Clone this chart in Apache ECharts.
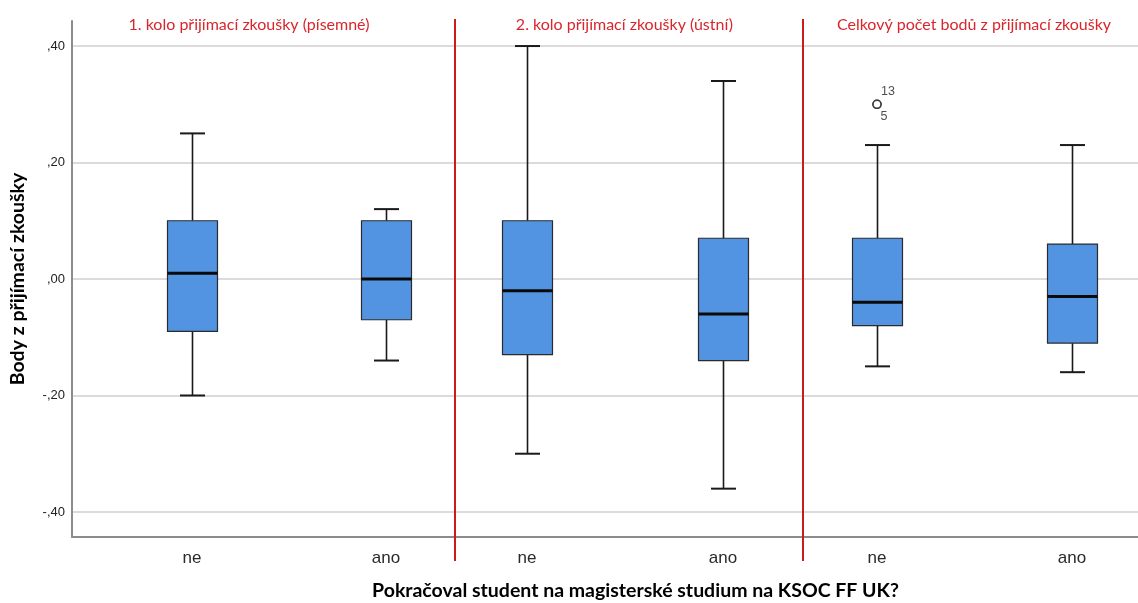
<!DOCTYPE html>
<html>
<head>
<meta charset="utf-8">
<script src="https://cdn.jsdelivr.net/npm/echarts@6/dist/echarts.min.js"></script>
<style>html,body{margin:0;padding:0;background:#fff}#c{width:1138px;height:603px}</style>
</head>
<body>
<div id="c"></div>
<script>
// ---- data ----
const categories = ['ne', 'ano'];
const panelTitles = [
  '1. kolo přijímací zkoušky (písemné)',
  '2. kolo přijímací zkoušky (ústní)',
  'Celkový počet bodů z přijímací zkoušky'
];
// [min, Q1, median, Q3, max]
const panel1 = [[-0.20, -0.09, 0.01, 0.10, 0.25], [-0.14, -0.07, 0.00, 0.10, 0.12]];
const panel2 = [[-0.30, -0.13, -0.02, 0.10, 0.40], [-0.36, -0.14, -0.06, 0.07, 0.34]];
const panel3 = [[-0.15, -0.08, -0.04, 0.07, 0.23], [-0.16, -0.11, -0.03, 0.06, 0.23]];
const outlierCategory = 'ne';
const outlierValues = [0.30, 0.30];
const outlierCases = ['13', '5'];
const yAxisTitle = 'Body z přijímací zkoušky';
const xAxisTitle = 'Pokračoval student na magisterské studium na KSOC FF UK?';

// ---- layout ----
const plotTop = 21, plotBottom = 66, plotLeft = 72;
const yMin = -0.443, yMax = 0.443;
const panelGrids = [
  { left: 95, width: 388 },
  { left: 429, width: 392 },
  { left: 779.5, width: 390 }
];
const separators = [455, 803];
const titleCenters = [249, 624.5, 974];

function fmtTick(v) {
  if (Math.abs(v) < 1e-9) return ',00';
  const s = Math.abs(v).toFixed(2).replace('0.', ',');
  return (v < 0 ? '-' : '') + s;
}

function renderBox(params, api) {
  const i = api.value(0);
  const c = v => api.coord([i, v]);
  const pMin = c(api.value(1)), pQ1 = c(api.value(2)), pMed = c(api.value(3)),
        pQ3 = c(api.value(4)), pMax = c(api.value(5));
  const x = Math.round(pMed[0]) + 0.5;
  const hw = 25, cw = 12.5;
  const whisk = { stroke: '#1a1a1a', lineWidth: 1.6 };
  return {
    type: 'group',
    children: [
      { type: 'line', shape: { x1: x, y1: pMax[1], x2: x, y2: pQ3[1] }, style: whisk },
      { type: 'line', shape: { x1: x, y1: pQ1[1], x2: x, y2: pMin[1] }, style: whisk },
      { type: 'line', shape: { x1: x - cw, y1: pMax[1], x2: x + cw, y2: pMax[1] }, style: { stroke: '#1a1a1a', lineWidth: 2 } },
      { type: 'line', shape: { x1: x - cw, y1: pMin[1], x2: x + cw, y2: pMin[1] }, style: { stroke: '#1a1a1a', lineWidth: 2 } },
      { type: 'rect', shape: { x: x - hw, y: pQ3[1], width: 2 * hw, height: pQ1[1] - pQ3[1] },
        style: { fill: '#5294e2', stroke: '#2b2b2b', lineWidth: 1.2 } },
      { type: 'line', shape: { x1: x - hw, y1: pMed[1], x2: x + hw, y2: pMed[1] }, style: { stroke: '#0a0a0a', lineWidth: 3 } }
    ]
  };
}

const grids = [
  // 0: tick labels + gridlines
  { left: plotLeft, right: 0, top: 46, bottom: 91, outerBoundsMode: 'none' },
  // 1: frame (axis lines and axis names)
  { left: plotLeft, right: 0, top: plotTop, bottom: plotBottom, outerBoundsMode: 'none' }
].concat(panelGrids.map(g => ({ left: g.left, width: g.width, top: plotTop, bottom: plotBottom, outerBoundsMode: 'none' })));

const xAxes = [
  { gridIndex: 0, type: 'value', show: false, min: 0, max: 1 },
  { gridIndex: 1, type: 'value', min: 0, max: 1,
    axisLine: { show: true, onZero: false, lineStyle: { color: '#8c8c8c', width: 2 } },
    axisTick: { show: false }, axisLabel: { show: false }, splitLine: { show: false },
    name: xAxisTitle, nameLocation: 'middle', nameGap: 44,
    nameTextStyle: { fontFamily: 'Lato', fontWeight: 'bold', fontSize: 19.5, color: '#000', padding: [0, 0, 0, 61] }
  }
].concat(panelGrids.map((g, k) => ({
  gridIndex: k + 2, type: 'category', data: categories, boundaryGap: true,
  axisLine: { show: false, onZero: false }, axisTick: { show: false }, splitLine: { show: false },
  axisLabel: { margin: 13, fontFamily: 'Liberation Sans', fontSize: 17, color: '#2a2a2a' }
})));

const yAxes = [
  { gridIndex: 0, type: 'value', min: -0.4, max: 0.4, interval: 0.2,
    axisLine: { show: false }, axisTick: { show: false },
    axisLabel: { margin: 7, fontFamily: 'Liberation Sans', fontSize: 13, color: '#222', formatter: fmtTick },
    splitLine: { show: true, lineStyle: { color: '#cfcfcf', width: 1.5 } }
  },
  { gridIndex: 1, type: 'value', min: yMin, max: yMax,
    axisLine: { show: true, onZero: false, lineStyle: { color: '#8c8c8c', width: 2 } },
    axisTick: { show: false }, axisLabel: { show: false }, splitLine: { show: false },
    name: yAxisTitle, nameLocation: 'middle', nameGap: 44, nameRotate: 90,
    nameTextStyle: { fontFamily: 'Lato', fontWeight: 'bold', fontSize: 19.5, color: '#000' }
  }
].concat(panelGrids.map((g, k) => ({
  gridIndex: k + 2, type: 'value', min: yMin, max: yMax, show: false
})));

function toSeriesData(panel) {
  return panel.map((d, i) => [categories[i]].concat(d));
}

const series = [panel1, panel2, panel3].map((p, k) => ({
  type: 'custom',
  xAxisIndex: k + 2, yAxisIndex: k + 2,
  renderItem: renderBox,
  encode: { x: 0, y: [1, 2, 3, 4, 5] },
  data: toSeriesData(p),
  clip: false,
  silent: true
}));

const outlierOffsets = [[11, -13], [7, 12]];
series.push({
  type: 'scatter',
  xAxisIndex: 4, yAxisIndex: 4,
  symbol: 'circle', symbolSize: 8,
  itemStyle: { color: '#fff', borderColor: '#222', borderWidth: 1.6 },
  data: outlierValues.map((v, i) => ({
    value: [outlierCategory, v],
    label: {
      show: true, formatter: outlierCases[i], position: 'inside',
      offset: outlierOffsets[i], fontFamily: 'Liberation Sans', fontSize: 12.5, color: '#222'
    }
  })),
  silent: true, z: 5
});

const graphics = separators.map(x => ({
  type: 'line', shape: { x1: x, y1: 19, x2: x, y2: 561 },
  style: { stroke: '#d01a1a', lineWidth: 2 }, z: 10
})).concat(panelTitles.map((t, i) => ({
  type: 'text', x: titleCenters[i], y: 25,
  style: { text: t, textAlign: 'center', textVerticalAlign: 'middle',
    fontFamily: 'Lato', fontSize: 16, fill: '#d9262c' }, z: 10
})));

const chart = echarts.init(document.getElementById('c'), null, { renderer: 'canvas' });
chart.setOption({
  animation: false,
  backgroundColor: '#fff',
  grid: grids,
  xAxis: xAxes,
  yAxis: yAxes,
  series: series,
  graphic: graphics
});
</script>
</body>
</html>
